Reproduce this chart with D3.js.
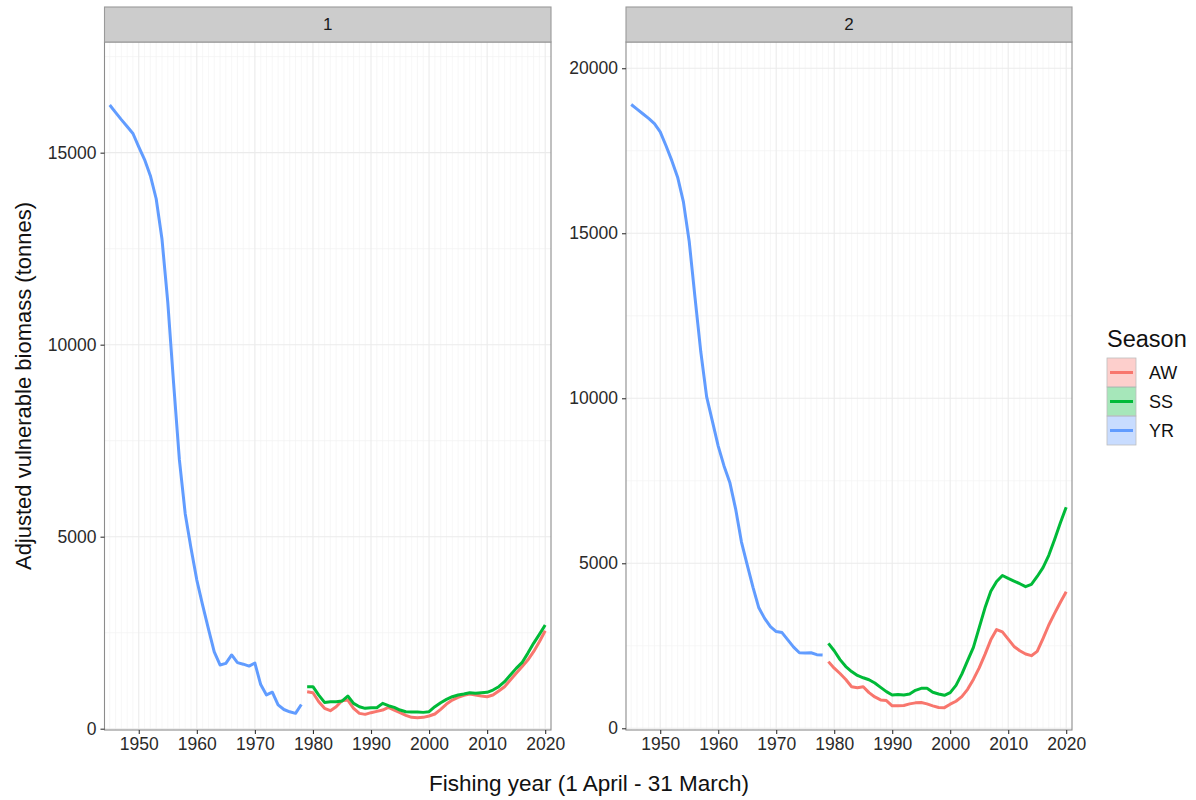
<!DOCTYPE html>
<html>
<head>
<meta charset="utf-8">
<script src="https://cdn.jsdelivr.net/npm/d3@7"></script>
<style>
  html, body { margin: 0; padding: 0; background: #fff; }
  svg { display: block; font-family: "Liberation Sans", Arial, Helvetica, sans-serif; }
</style>
</head>
<body>
<svg id="chart" width="1196" height="800"></svg>
<script>
// Season categories and colours
const seasons = ["AW", "SS", "YR"];
const seasonColors = ["#F8766D", "#00BA38", "#619CFF"];

// Year ranges for each season series
const yrYears = d3.range(1945, 1979);
const seasonalYears = d3.range(1979, 2021);

// Area 1: adjusted vulnerable biomass (tonnes)
const area1YR = [16240, 16050, 15860, 15680, 15500, 15150, 14820, 14400, 13800, 12750,
  11100, 9000, 7000, 5600, 4700, 3870, 3220, 2600, 2000, 1660,
  1700, 1920, 1720, 1680, 1630, 1710, 1150, 880, 950, 620,
  500, 440, 400, 630];
const area1SS = [1094, 1094, 875, 685, 703, 703, 720, 850, 660, 573,
  530, 547, 547, 660, 599, 556, 486, 443, 434, 434,
  425, 443, 573, 677, 764, 833, 876, 902, 937, 920,
  937, 946, 1007, 1094, 1224, 1398, 1571, 1719, 1962, 2222,
  2457, 2700];
const area1AW = [963, 937, 703, 530, 469, 573, 729, 746, 530, 399,
  373, 417, 451, 486, 556, 486, 417, 347, 295, 287,
  295, 330, 382, 503, 642, 746, 816, 868, 902, 876,
  850, 833, 876, 981, 1094, 1268, 1441, 1615, 1788, 2005,
  2266, 2552];

// Area 2: adjusted vulnerable biomass (tonnes)
const area2YR = [18900, 18760, 18620, 18480, 18320, 18070, 17650, 17200, 16700, 15950,
  14750, 13050, 11400, 10050, 9300, 8550, 7950, 7450, 6650, 5650,
  4950, 4270, 3650, 3330, 3080, 2930, 2900, 2680, 2460, 2290,
  2280, 2290, 2230, 2220];
const area2SS = [2575, 2350, 2080, 1870, 1720, 1600, 1530, 1470, 1370, 1240,
  1110, 1010, 1020, 1010, 1040, 1150, 1210, 1210, 1090, 1040,
  1000, 1080, 1300, 1640, 2050, 2450, 3050, 3650, 4150, 4450,
  4630, 4540, 4460, 4380, 4290, 4360, 4600, 4870, 5240, 5720,
  6230, 6700];
const area2AW = [2020, 1820, 1660, 1480, 1260, 1230, 1260, 1080, 950, 860,
  840, 680, 680, 690, 740, 770, 780, 740, 680, 630,
  625, 730, 820, 960, 1180, 1480, 1830, 2240, 2680, 2990,
  2920, 2700, 2480, 2350, 2250, 2200, 2330, 2720, 3130, 3480,
  3820, 4140];

// Axis tick labels
const xTicks = [1950, 1960, 1970, 1980, 1990, 2000, 2010, 2020];
const yTicks1 = [0, 5000, 10000, 15000];
const yTicks2 = [0, 5000, 10000, 15000, 20000];
const panelLabels = ["1", "2"];

const panels = [
  { label: panelLabels[0], left: 104.5, right: 551, yDomain: [-34, 17882], yTicks: yTicks1,
    series: { AW: area1AW, SS: area1SS, YR: area1YR } },
  { label: panelLabels[1], left: 626, right: 1072, yDomain: [-52, 20795], yTicks: yTicks2,
    series: { AW: area2AW, SS: area2SS, YR: area2YR } }
];

const stripTop = 7, plotTop = 42, plotBottom = 730;
const xDomain = [1944.1, 2021.0];
const svg = d3.select("#chart");
const color = d3.scaleOrdinal().domain(seasons).range(seasonColors);

panels.forEach(p => {
  const x = d3.scaleLinear().domain(xDomain).range([p.left, p.right]);
  const y = d3.scaleLinear().domain(p.yDomain).range([plotBottom, plotTop]);
  const g = svg.append("g");

  // panel background
  g.append("rect").attr("x", p.left).attr("y", plotTop)
    .attr("width", p.right - p.left).attr("height", plotBottom - plotTop)
    .attr("fill", "#fff");

  // minor grid: every year on x, midpoints on y
  const minorX = d3.range(1945, 2021).filter(v => v % 10 !== 0);
  g.selectAll(".mx").data(minorX).join("line")
    .attr("x1", d => x(d)).attr("x2", d => x(d))
    .attr("y1", plotTop).attr("y2", plotBottom)
    .attr("stroke", "#f4f4f4").attr("stroke-width", 0.7);
  const minorY = p.yTicks.map(v => v + 2500).filter(v => y(v) > plotTop);
  g.selectAll(".my").data(minorY).join("line")
    .attr("x1", p.left).attr("x2", p.right)
    .attr("y1", d => y(d)).attr("y2", d => y(d))
    .attr("stroke", "#f2f2f2").attr("stroke-width", 0.7);

  // major grid
  g.selectAll(".gx").data(xTicks).join("line")
    .attr("x1", d => x(d)).attr("x2", d => x(d))
    .attr("y1", plotTop).attr("y2", plotBottom)
    .attr("stroke", "#ebebeb").attr("stroke-width", 1.1);
  g.selectAll(".gy").data(p.yTicks).join("line")
    .attr("x1", p.left).attr("x2", p.right)
    .attr("y1", d => y(d)).attr("y2", d => y(d))
    .attr("stroke", "#ebebeb").attr("stroke-width", 1.1);

  // series lines
  const line = d3.line().x(d => x(d[0])).y(d => y(d[1]));
  seasons.forEach(s => {
    const yrs = s === "YR" ? yrYears : seasonalYears;
    const pts = yrs.map((yr, i) => [yr, p.series[s][i]]);
    g.append("path").datum(pts)
      .attr("d", line)
      .attr("fill", "none")
      .attr("stroke", color(s))
      .attr("stroke-width", 3)
      .attr("stroke-linejoin", "round")
      .attr("stroke-linecap", "butt");
  });

  // panel border
  g.append("rect").attr("x", p.left).attr("y", plotTop)
    .attr("width", p.right - p.left).attr("height", plotBottom - plotTop)
    .attr("fill", "none").attr("stroke", "#8c8c8c").attr("stroke-width", 1.1);

  // strip
  g.append("rect").attr("x", p.left).attr("y", stripTop)
    .attr("width", p.right - p.left).attr("height", plotTop - stripTop)
    .attr("fill", "#cccccc").attr("stroke", "#9a9a9a").attr("stroke-width", 1.1);
  g.append("text").attr("x", (p.left + p.right) / 2).attr("y", (stripTop + plotTop) / 2)
    .attr("dy", "0.35em").attr("text-anchor", "middle")
    .attr("font-size", 17).attr("fill", "#1a1a1a").text(p.label);

  // axes
  const xAxis = d3.axisBottom(x).tickValues(xTicks).tickFormat(d3.format("d"))
    .tickSize(4).tickPadding(4);
  const xg = g.append("g").attr("transform", `translate(0,${plotBottom})`).call(xAxis);
  const yAxis = d3.axisLeft(y).tickValues(p.yTicks).tickFormat(d3.format("d"))
    .tickSize(4).tickPadding(4);
  const yg = g.append("g").attr("transform", `translate(${p.left},0)`).call(yAxis);
  [xg, yg].forEach(a => {
    a.select(".domain").remove();
    a.selectAll(".tick line").attr("stroke", "#333").attr("stroke-width", 1.1);
    a.selectAll(".tick text").attr("font-size", 17.5).attr("fill", "#2a2a2a")
      .attr("font-family", "Liberation Sans, Arial, sans-serif");
  });
});

// axis titles
svg.append("text").attr("x", 589).attr("y", 791).attr("text-anchor", "middle")
  .attr("font-size", 22.5).attr("fill", "#111").text("Fishing year (1 April - 31 March)");
svg.append("text").attr("transform", "translate(31,386) rotate(-90)")
  .attr("text-anchor", "middle").attr("font-size", 22).attr("fill", "#111")
  .text("Adjusted vulnerable biomass (tonnes)");

// legend
const lg = svg.append("g").attr("transform", "translate(1107,0)");
lg.append("text").attr("x", 0).attr("y", 347).attr("font-size", 23.5).attr("fill", "#111").text("Season");
seasons.forEach((s, i) => {
  const top = 358 + i * 29;
  lg.append("rect").attr("x", 0).attr("y", top).attr("width", 29).attr("height", 29)
    .attr("fill", color(s)).attr("fill-opacity", 0.35)
    .attr("stroke", "#bdbdbd").attr("stroke-width", 0.8);
  lg.append("line").attr("x1", 3).attr("x2", 26).attr("y1", top + 14.5).attr("y2", top + 14.5)
    .attr("stroke", color(s)).attr("stroke-width", 3);
  lg.append("text").attr("x", 42).attr("y", top + 14.5).attr("dy", "0.35em")
    .attr("font-size", 18).attr("fill", "#111").text(s);
});
</script>
</body>
</html>
